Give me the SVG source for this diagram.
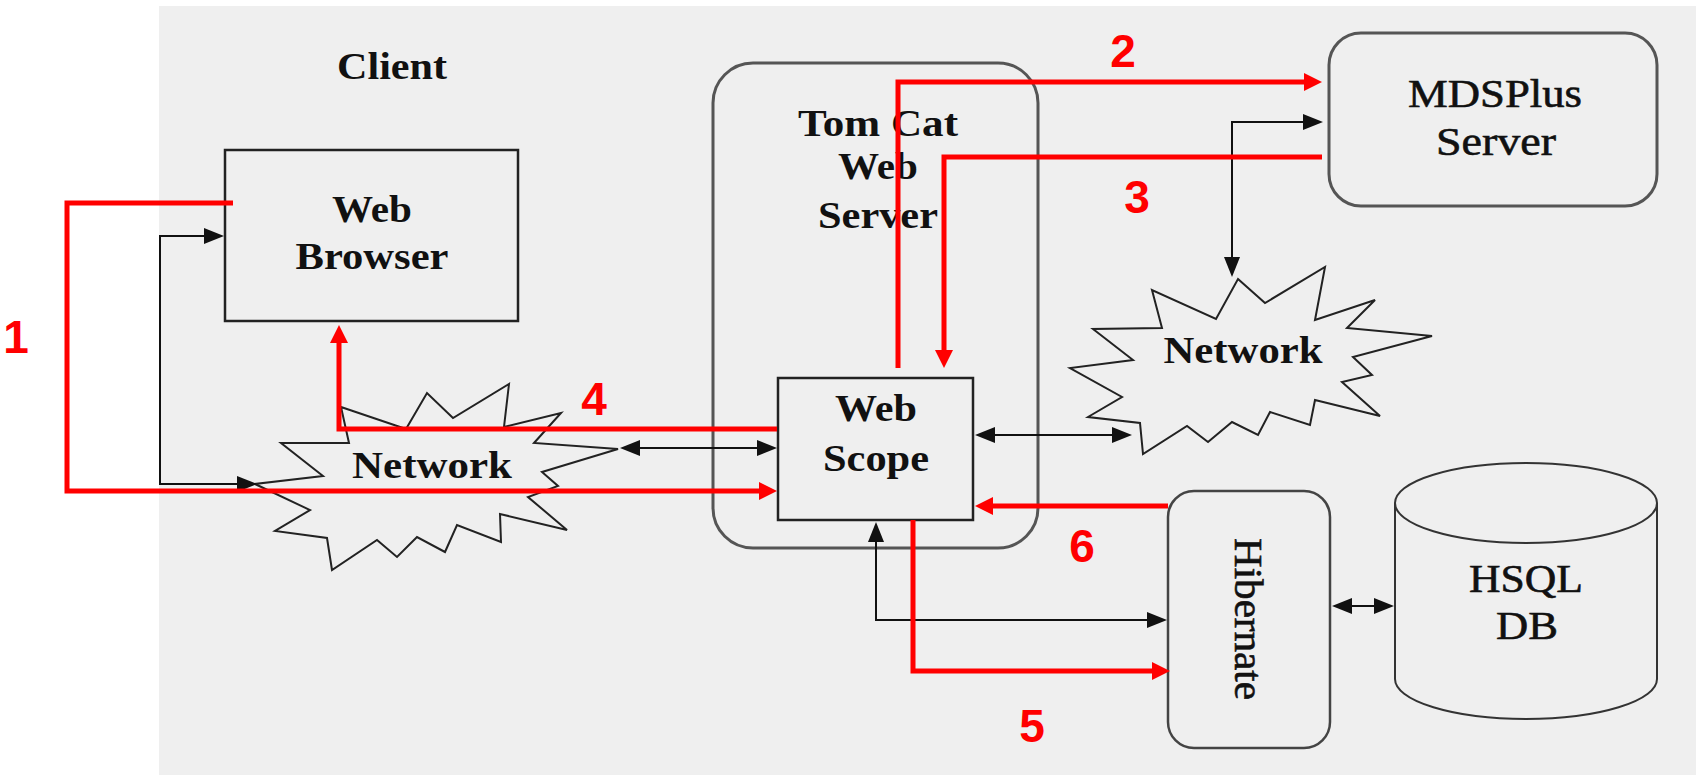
<svg xmlns="http://www.w3.org/2000/svg" width="1696" height="775" viewBox="0 0 1696 775">
<defs>
<style>
.lbl{font-family:"Liberation Serif","Times New Roman",serif;font-weight:bold;font-size:38px;fill:#111;text-anchor:middle}
.lblr{font-family:"Liberation Serif","Times New Roman",serif;font-weight:normal;font-size:40px;fill:#111;text-anchor:middle;stroke:#111;stroke-width:0.6}
.num{font-family:"Liberation Sans",Arial,sans-serif;font-weight:bold;font-size:46px;fill:#ff0000;text-anchor:middle}
.box{fill:#efefef;stroke:#222;stroke-width:2.5}
.rbox{fill:none;stroke:#555;stroke-width:3}
.star{fill:#efefef;stroke:#222;stroke-width:2;stroke-linejoin:miter}
.red{fill:none;stroke:#ff0000;stroke-width:5}
.blk{fill:none;stroke:#111;stroke-width:2}
</style>
<marker id="ra" markerUnits="userSpaceOnUse" markerWidth="18" markerHeight="18" refX="0" refY="9" orient="auto-start-reverse">
<path d="M0,0 L18,9 L0,18 z" fill="#ff0000"/>
</marker>
<marker id="ba" markerUnits="userSpaceOnUse" markerWidth="20" markerHeight="16" refX="0" refY="8" orient="auto-start-reverse">
<path d="M0,0 L20,8 L0,16 z" fill="#111"/>
</marker>
</defs>
<rect x="0" y="0" width="1696" height="775" fill="#ffffff"/>
<rect x="159" y="6" width="1537" height="769" fill="#efefef"/>

<g id="node-client">
<text class="lbl" x="392" y="79" textLength="110" lengthAdjust="spacingAndGlyphs">Client</text>
</g>

<g id="node-web-browser">
<rect class="box" x="225" y="150" width="293" height="171"/>
<text class="lbl" x="372" y="222" textLength="80" lengthAdjust="spacingAndGlyphs">Web</text>
<text class="lbl" x="372" y="269" textLength="153" lengthAdjust="spacingAndGlyphs">Browser</text>
</g>

<g id="node-tomcat">
<rect class="rbox" x="713" y="63" width="325" height="485" rx="40" ry="40"/>
<text class="lbl" x="878" y="136" textLength="160" lengthAdjust="spacingAndGlyphs">Tom Cat</text>
<text class="lbl" x="878" y="179" textLength="80" lengthAdjust="spacingAndGlyphs">Web</text>
<text class="lbl" x="878" y="228" textLength="120" lengthAdjust="spacingAndGlyphs">Server</text>
</g>

<g id="node-web-scope">
<rect class="box" x="778" y="378" width="195" height="142"/>
<text class="lbl" x="876" y="421" textLength="82" lengthAdjust="spacingAndGlyphs">Web</text>
<text class="lbl" x="876" y="471" textLength="106" lengthAdjust="spacingAndGlyphs">Scope</text>
</g>

<g id="node-mdsplus">
<rect class="rbox" x="1329" y="33" width="328" height="173" rx="32" ry="32"/>
<text class="lblr" x="1495" y="107" textLength="174" lengthAdjust="spacingAndGlyphs">MDSPlus</text>
<text class="lblr" x="1496" y="155" textLength="120" lengthAdjust="spacingAndGlyphs">Server</text>
</g>

<g id="node-network-left">
<polygon class="star" points="341,407 406,429 427,393 453,418 509,384 504,427 561,413 534,443 618,449 542,472 558,486 528,497 567,530 500,514 501,542 457,525 445,552 417,537 397,557 377,540 332,570 327,538 275,531 310,510 255,484 323,476 281,443 349,443"/>
<text class="lbl" x="432" y="478" textLength="160" lengthAdjust="spacingAndGlyphs">Network</text>
</g>

<g id="node-network-right">
<polygon class="star" points="1238,279 1265,303 1325,267 1315,320 1375,300 1347,328 1432,336 1353,357 1372,375 1342,382 1380,416 1315,400 1310,425 1270,412 1258,435 1232,422 1208,442 1187,426 1143,454 1140,423 1088,417 1122,397 1070,368 1133,360 1093,329 1162,328 1152,290 1216,319"/>
<text class="lbl" x="1243" y="363" textLength="159" lengthAdjust="spacingAndGlyphs">Network</text>
</g>

<g id="node-hibernate">
<rect x="1168" y="491" width="162" height="257" rx="26" ry="26" fill="#efefef" stroke="#444" stroke-width="2.5"/>
<text class="lblr" x="0" y="0" transform="translate(1235,619) rotate(90)" textLength="162" lengthAdjust="spacingAndGlyphs" font-size="44">Hibernate</text>
</g>

<g id="node-hsql">
<path d="M1395,503 V679 A131,40 0 0 0 1657,679 V503 A131,40 0 0 0 1395,503 Z" fill="#efefef" stroke="#333" stroke-width="2"/>
<path d="M1395,503 A131,40 0 0 0 1657,503" fill="none" stroke="#333" stroke-width="2"/>
<text class="lblr" x="1526" y="592" textLength="114" lengthAdjust="spacingAndGlyphs">HSQL</text>
<text class="lblr" x="1527" y="639" textLength="62" lengthAdjust="spacingAndGlyphs">DB</text>
</g>

<g id="connectors">
<path class="blk" d="M204,236 H160 V484 H237" marker-start="url(#ba)" marker-end="url(#ba)"/>
<path class="blk" d="M640,448 H757" marker-start="url(#ba)" marker-end="url(#ba)"/>
<path class="blk" d="M1232,257 V122 H1303" marker-start="url(#ba)" marker-end="url(#ba)"/>
<path class="blk" d="M995,435 H1112" marker-start="url(#ba)" marker-end="url(#ba)"/>
<path class="blk" d="M876,542 V620 H1147" marker-start="url(#ba)" marker-end="url(#ba)"/>
<path class="blk" d="M1352,606 H1374" marker-start="url(#ba)" marker-end="url(#ba)"/>

<path class="red" d="M233,203 H67 V491 H759" marker-end="url(#ra)"/>
<path class="red" d="M898,368 V82 H1304" marker-end="url(#ra)"/>
<path class="red" d="M1322,157 H944 V350" marker-end="url(#ra)"/>
<path class="red" d="M777,429 H339 V343" marker-end="url(#ra)"/>
<path class="red" d="M913,520 V671 H1152" marker-end="url(#ra)"/>
<path class="red" d="M1168,506 H993" marker-end="url(#ra)"/>

<text class="num" x="16" y="353">1</text>
<text class="num" x="1123" y="67">2</text>
<text class="num" x="1137" y="213">3</text>
<text class="num" x="594" y="415">4</text>
<text class="num" x="1032" y="742">5</text>
<text class="num" x="1082" y="562">6</text>
</g>
</svg>
